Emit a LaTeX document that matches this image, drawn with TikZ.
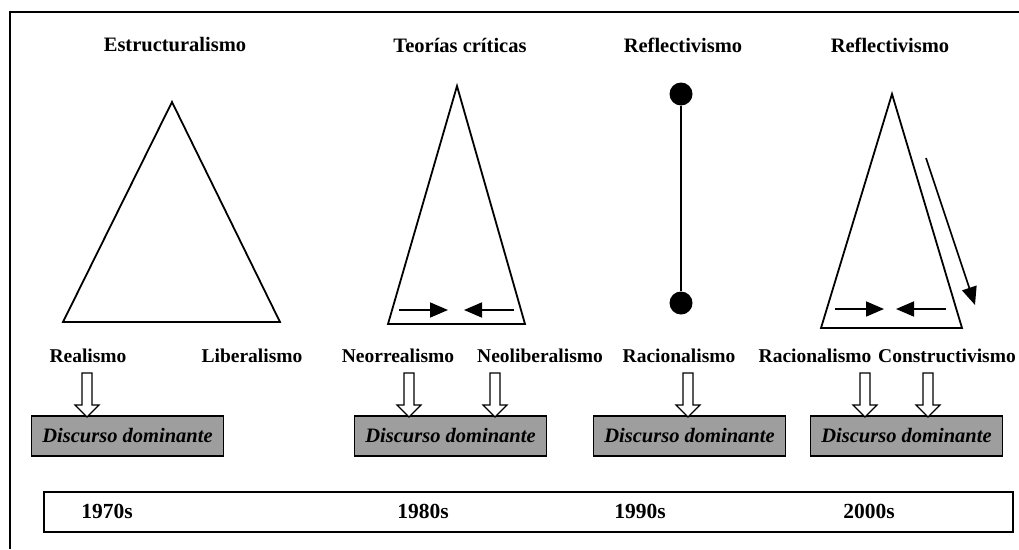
\documentclass[tikz,border=0pt]{standalone}
\usepackage{fontspec}
\setmainfont{Liberation Serif}
\usetikzlibrary{arrows.meta}
\definecolor{boxgrey}{RGB}{158,158,158}
\begin{document}
\begin{tikzpicture}[x=1pt,y=-1pt,
  ttl/.style={font=\fontsize{20.5}{24}\selectfont\bfseries, inner sep=0pt},
  lbl/.style={font=\fontsize{19.5}{23}\selectfont\bfseries, inner sep=0pt},
  yr/.style={font=\fontsize{21.5}{24}\selectfont\bfseries, inner sep=0pt},
  dbox/.style={draw, line width=1.3pt, fill=boxgrey, minimum width=192pt, minimum height=40pt, inner sep=0pt,
    font=\fontsize{20.5}{24}\selectfont\bfseries\itshape},
  tri/.style={draw, line width=1.8pt, line join=miter},
  inarrow/.style={line width=1.7pt, -{Triangle[length=18pt,width=15pt]}},
  hollowdown/.pic={\draw[line width=1.2pt, fill=white] (-5,0) -- (-5,32) -- (-12,32) -- (0,44) -- (12,32) -- (5,32) -- (5,0) -- cycle;},
  dot/.style={circle, fill=black, minimum size=23pt, inner sep=0pt}
]
\useasboundingbox (0,0) rectangle (1019,549);
% frame
\coordinate (fb) at (10,549);
\coordinate (ftl) at (10,12);
\coordinate (ftr) at (1019,12);
\draw[line width=1.5pt] (fb) -- (ftl) -- (ftr);

% titles
\node[ttl] (t1) at (175,45) {Estructuralismo};
\node[ttl] (t2) at (460,45) {Teorías críticas};
\node[ttl] (t3) at (683,45) {Reflectivismo};
\node[ttl] (t4) at (890,45) {Reflectivismo};

% triangle 1
\coordinate (a1) at (172,102);
\coordinate (l1) at (63,322);
\coordinate (r1) at (280,322);
\draw[tri] (a1) -- (l1) -- (r1) -- cycle;

% triangle 2
\coordinate (a2) at (457,86);
\coordinate (l2) at (388,324);
\coordinate (r2) at (525,324);
\draw[tri] (a2) -- (l2) -- (r2) -- cycle;
\coordinate (p2a) at (399,310);
\coordinate (p2b) at (448,310);
\coordinate (p2c) at (514,310);
\coordinate (p2d) at (464,310);
\draw[inarrow] (p2a) -- (p2b);
\draw[inarrow] (p2c) -- (p2d);

% line with dots
\node[dot] (d1) at (681,94) {};
\node[dot] (d2) at (681,303) {};
\draw[line width=1.8pt] (d1) -- (d2);

% triangle 4
\coordinate (a4) at (892,94);
\coordinate (l4) at (821,328);
\coordinate (r4) at (962,328);
\draw[tri] (a4) -- (l4) -- (r4) -- cycle;
\coordinate (p4a) at (835,309);
\coordinate (p4b) at (884,309);
\coordinate (p4c) at (946,309);
\coordinate (p4d) at (896,309);
\draw[inarrow] (p4a) -- (p4b);
\draw[inarrow] (p4c) -- (p4d);
\coordinate (q4a) at (926,158);
\coordinate (q4b) at (975,305);
\draw[inarrow] (q4a) -- (q4b);

% labels
\node[lbl] (n1) at (88,356) {Realismo};
\node[lbl] (n2) at (252,356) {Liberalismo};
\node[lbl] (n3) at (398,356) {Neorrealismo};
\node[lbl] (n4) at (540,356) {Neoliberalismo};
\node[lbl] (n5) at (679,356) {Racionalismo};
\node[lbl] (n6) at (815,356) {Racionalismo};
\node[lbl] (n7) at (947,356) {Constructivismo};

% boxes
\node[dbox] (b1) at (127.5,436) {Discurso dominante};
\node[dbox] (b2) at (450.5,436) {Discurso dominante};
\node[dbox] (b3) at (689.5,436) {Discurso dominante};
\node[dbox] (b4) at (906.5,436) {Discurso dominante};

% hollow arrows
\pic at (87,373) {hollowdown};
\pic at (409,373) {hollowdown};
\pic at (495,373) {hollowdown};
\pic at (688,373) {hollowdown};
\pic at (865,373) {hollowdown};
\pic at (928,373) {hollowdown};

% timeline
\node[draw, line width=1.3pt, minimum width=969pt, minimum height=40pt, inner sep=0pt] (tl) at (528.5,512) {};
\node[yr] (y1) at (107,511) {1970s};
\node[yr] (y2) at (423,511) {1980s};
\node[yr] (y3) at (640,511) {1990s};
\node[yr] (y4) at (869,511) {2000s};
\end{tikzpicture}
\end{document}
